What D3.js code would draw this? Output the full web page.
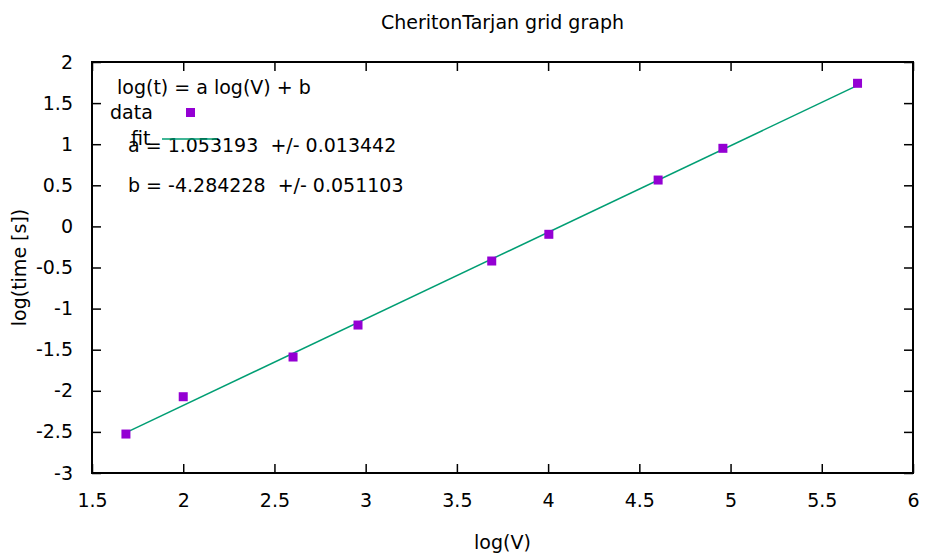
<!DOCTYPE html>
<html>
<head>
<meta charset="utf-8">
<script src="https://cdn.jsdelivr.net/npm/d3@7"></script>
<style>
body { margin: 0; background: #fff; }
svg { display: block; font-family: "DejaVu Sans", sans-serif; }
svg text { white-space: pre; }
</style>
</head>
<body>
<div id="chart"></div>
<script>
// measured points: log(V), log(time)
var logV = [1.686, 2.0, 2.602, 2.958, 3.691, 4.004, 4.603, 4.958, 5.696];
var logT = [-2.526, -2.072, -1.589, -1.2, -0.421, -0.096, 0.564, 0.95, 1.741];
var fitA = 1.053193, fitB = -4.284228;
var xTicks = [1.5, 2, 2.5, 3, 3.5, 4, 4.5, 5, 5.5, 6];
var yTicks = [-3, -2.5, -2, -1.5, -1, -0.5, 0, 0.5, 1, 1.5, 2];
var annot = ["log(t) = a log(V) + b", "a = 1.053193  +/- 0.013442", "b = -4.284228  +/- 0.051103"];

var W = 927, H = 554;
var margin = {top: 62, right: 14, bottom: 81, left: 92};
var width = W - margin.left - margin.right;
var height = H - margin.top - margin.bottom;
var fs = 19;

var svg = d3.select("#chart").append("svg")
  .attr("width", W).attr("height", H);

var g = svg.append("g").attr("transform", `translate(${margin.left},${margin.top})`);

var x = d3.scaleLinear().domain([1.5, 6]).range([0, width]);
var y = d3.scaleLinear().domain([-3, 2]).range([height, 0]);

var fmt = d => String(d);

// ticks (inward, mirrored)
function axis(gen, tr) {
  var a = g.append("g").attr("transform", tr).call(gen);
  a.select(".domain").remove();
  a.selectAll("line").attr("stroke", "#000").attr("stroke-width", 1.5);
  a.selectAll("text").attr("font-size", fs).attr("font-family", "DejaVu Sans").attr("fill", "#000");
  return a;
}
axis(d3.axisBottom(x).tickValues(xTicks).tickFormat(fmt).tickSizeInner(-9).tickPadding(21), `translate(0,${height})`);
axis(d3.axisTop(x).tickValues(xTicks).tickFormat("").tickSizeInner(-9), "translate(0,0)");
axis(d3.axisLeft(y).tickValues(yTicks).tickFormat(fmt).tickSizeInner(-9).tickPadding(19), "translate(0,0)");
axis(d3.axisRight(y).tickValues(yTicks).tickFormat("").tickSizeInner(-9), `translate(${width},0)`);

// border
g.append("rect").attr("width", width).attr("height", height)
  .attr("fill", "none").attr("stroke", "#000").attr("stroke-width", 2);

// fit line
var xmin = d3.min(logV), xmax = d3.max(logV);
g.append("line")
  .attr("x1", x(xmin)).attr("y1", y(fitA * xmin + fitB))
  .attr("x2", x(xmax)).attr("y2", y(fitA * xmax + fitB))
  .attr("stroke", "#009e73").attr("stroke-width", 1.5);

// points
var ps = 9;
g.selectAll("rect.pt").data(logV).enter().append("rect")
  .attr("class", "pt")
  .attr("x", (d) => x(d) - ps / 2)
  .attr("y", (d, i) => y(logT[i]) - ps / 2)
  .attr("width", ps).attr("height", ps)
  .attr("fill", "#9400d3");

// annotations
svg.append("text").attr("x", 117).attr("y", 94).attr("font-size", fs).text(annot[0]);
svg.append("text").attr("x", 128).attr("y", 152).attr("font-size", fs).text(annot[1]);
svg.append("text").attr("x", 128).attr("y", 192).attr("font-size", fs).text(annot[2]);

// legend
svg.append("text").attr("x", 110).attr("y", 119).attr("font-size", fs).text("data");
svg.append("rect").attr("x", 186).attr("y", 108).attr("width", ps).attr("height", ps).attr("fill", "#9400d3");
svg.append("text").attr("x", 131).attr("y", 145).attr("font-size", fs).text("fit");
svg.append("line").attr("x1", 162).attr("x2", 217).attr("y1", 139).attr("y2", 139)
  .attr("stroke", "#009e73").attr("stroke-width", 1.5);

// titles
svg.append("text").attr("x", margin.left + width / 2).attr("y", 29).attr("text-anchor", "middle")
  .attr("font-size", fs).text("CheritonTarjan grid graph");
svg.append("text").attr("x", margin.left + width / 2).attr("y", 549).attr("text-anchor", "middle")
  .attr("font-size", fs).text("log(V)");
svg.append("text").attr("transform", `translate(26,${margin.top + height / 2}) rotate(-90)`)
  .attr("text-anchor", "middle").attr("font-size", fs).text("log(time [s])");
</script>
</body>
</html>
